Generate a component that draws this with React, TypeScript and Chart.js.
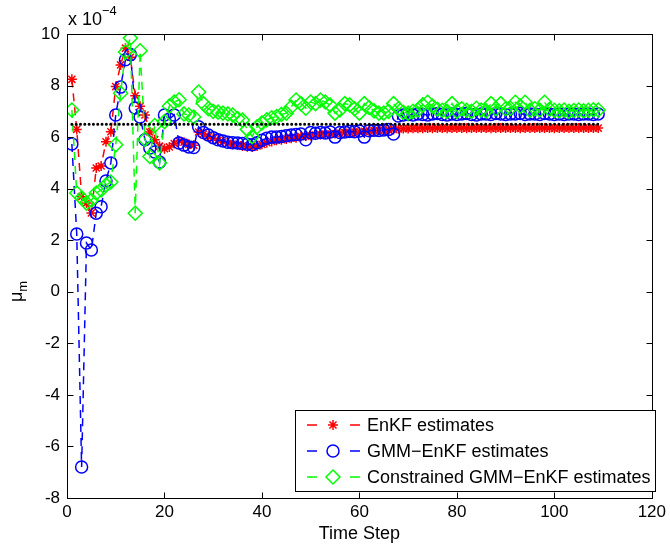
import React, { useEffect, useRef } from "react";
import { Chart, registerables } from "chart.js";

Chart.register(...registerables);

// Estimates of mu_m (in units of 1e-4) for each assimilation time step
const timeSteps: number[] = Array.from({ length: 109 }, (_, i) => i + 1);

const enkfEstimates: number[] = [
  8.24, 6.3, 3.69, 3.44, 3.06, 4.8, 4.88, 5.82, 6.21, 7.96,
  8.8, 9.45, 9.1, 7.6, 7.2, 6.86, 6.2, 5.9, 5.65, 5.55,
  5.62, 5.75, 5.85, 5.8, 5.72, 5.68, 6.2, 6.12, 6.02, 5.95,
  5.88, 5.82, 5.76, 5.72, 5.7, 5.66, 5.63, 5.62, 5.66, 5.72,
  5.78, 5.83, 5.88, 5.9, 5.93, 5.96, 5.98, 6.02, 6.04, 6.06,
  6.08, 6.1, 6.12, 6.13, 6.14, 6.16, 6.18, 6.19, 6.2, 6.21,
  6.22, 6.24, 6.25, 6.26, 6.27, 6.28, 6.3, 6.32, 6.33, 6.33,
  6.34, 6.34, 6.34, 6.35, 6.34, 6.35, 6.35, 6.34, 6.35, 6.35,
  6.35, 6.34, 6.35, 6.35, 6.35, 6.35, 6.34, 6.35, 6.35, 6.35,
  6.35, 6.35, 6.34, 6.35, 6.35, 6.35, 6.35, 6.35, 6.35, 6.34,
  6.35, 6.35, 6.35, 6.35, 6.35, 6.35, 6.35, 6.35, 6.35,
];

const gmmEnkfEstimates: number[] = [
  5.73, 2.24, -6.8, 1.89, 1.62, 3.05, 3.3, 4.3, 5.0, 6.86,
  7.94, 9.0, 9.2, 7.13, 6.78, 5.9, 5.58, 5.42, 5.03, 6.86,
  6.7, 6.86, 5.77, 5.69, 5.62, 5.6, 6.4, 6.18, 6.08, 5.98,
  5.9, 5.85, 5.8, 5.78, 5.77, 5.75, 5.72, 5.7, 5.78, 5.88,
  5.96, 6.0, 6.0, 6.02, 6.05, 6.08, 6.1, 6.12, 5.9, 6.18,
  6.15, 6.18, 6.16, 6.2, 6.0, 6.18, 6.2, 6.22, 6.21, 6.24,
  6.0, 6.25, 6.27, 6.26, 6.28, 6.3, 6.12, 6.82, 6.86, 6.88,
  6.86, 6.9, 6.88, 6.86, 6.9, 6.92, 6.88, 6.86, 6.9, 6.88,
  6.9, 6.92, 6.88, 6.86, 6.9, 6.9, 6.88, 6.92, 6.9, 6.88,
  6.9, 6.9, 6.92, 6.88, 6.9, 6.9, 6.88, 6.92, 6.9, 6.88,
  6.9, 6.88, 6.9, 6.9, 6.88, 6.9, 6.9, 6.88, 6.9,
];

const constrainedEstimates: number[] = [
  7.05, 3.83, 3.64, 3.44, 3.55, 3.83, 3.95, 4.14, 4.26, 5.7,
  7.7, 9.3, 9.84, 3.05, 9.35, 5.92, 5.25, 6.45, 5.0, 6.6,
  7.2, 7.36, 7.45, 6.9, 6.86, 6.78, 7.75, 7.3, 7.1, 7.0,
  6.97, 6.93, 6.9, 6.86, 6.72, 6.66, 6.3, 6.02, 6.4, 6.55,
  6.67, 6.75, 6.8, 6.88, 6.93, 7.17, 7.44, 7.3, 7.12, 7.36,
  7.3, 7.44, 7.36, 7.24, 6.93, 7.05, 7.3, 7.25, 7.1, 6.93,
  7.3, 7.15, 7.02, 6.93, 6.93, 7.0, 7.3, 7.1, 6.96, 6.93,
  7.0, 7.05, 7.25, 7.35, 7.2, 7.08, 7.04, 7.0, 7.3, 7.0,
  7.1, 7.04, 7.0, 7.12, 7.05, 7.02, 7.3, 7.1, 7.3, 7.1,
  7.12, 7.35, 7.2, 7.35, 7.04, 7.1, 7.05, 7.35, 7.08, 7.04,
  7.02, 7.05, 7.0, 7.03, 7.05, 7.02, 7.04, 7.06, 7.05,
];

const trueValue = 6.5;
const trueSpan: number[] = [1, 109];

const xTicks: number[] = [0, 20, 40, 60, 80, 100, 120];
const yTicks: number[] = [-8, -6, -4, -2, 0, 2, 4, 6, 8, 10];

const legendLabels: string[] = [
  "EnKF estimates",
  "GMM\u2212EnKF estimates",
  "Constrained GMM\u2212EnKF estimates",
];

const RED = "#ff0000";
const BLUE = "#0000ff";
const GREEN = "#00ff00";
const FONT = '"Liberation Sans", Arial, Helvetica, sans-serif';

function toPoints(values: number[]) {
  return values.map((v, i) => ({ x: timeSteps[i], y: v }));
}

function drawMarker(ctx: CanvasRenderingContext2D, kind: string, x: number, y: number, color: string) {
  ctx.save();
  ctx.strokeStyle = color;
  ctx.lineWidth = 1.5;
  ctx.setLineDash([]);
  ctx.beginPath();
  if (kind === "star") {
    const r = 5;
    const d = r * Math.SQRT1_2;
    ctx.moveTo(x - r, y); ctx.lineTo(x + r, y);
    ctx.moveTo(x, y - r); ctx.lineTo(x, y + r);
    ctx.moveTo(x - d, y - d); ctx.lineTo(x + d, y + d);
    ctx.moveTo(x - d, y + d); ctx.lineTo(x + d, y - d);
  } else if (kind === "circle") {
    ctx.arc(x, y, 6, 0, Math.PI * 2);
  } else {
    const r = 7;
    ctx.moveTo(x, y - r); ctx.lineTo(x + r, y); ctx.lineTo(x, y + r); ctx.lineTo(x - r, y); ctx.closePath();
  }
  ctx.stroke();
  ctx.restore();
}

const framePlugin = {
  id: "matlabFrame",
  afterDatasetsDraw(chart: any) {
    const { ctx, chartArea: a, scales } = chart;
    const L = Math.round(a.left) + 0.5;
    const R = Math.round(a.right) + 0.5;
    const T = Math.round(a.top) + 0.5;
    const B = Math.round(a.bottom) + 0.5;
    ctx.save();
    ctx.strokeStyle = "#000";
    ctx.lineWidth = 1;
    ctx.setLineDash([]);
    ctx.strokeRect(L, T, R - L, B - T);
    const tick = 6;
    ctx.beginPath();
    xTicks.forEach((v) => {
      const px = Math.round(scales.x.getPixelForValue(v)) + 0.5;
      ctx.moveTo(px, B); ctx.lineTo(px, B - tick);
      ctx.moveTo(px, T); ctx.lineTo(px, T + tick);
    });
    yTicks.forEach((v) => {
      const py = Math.round(scales.y.getPixelForValue(v)) + 0.5;
      ctx.moveTo(L, py); ctx.lineTo(L + tick, py);
      ctx.moveTo(R, py); ctx.lineTo(R - tick, py);
    });
    ctx.stroke();

    // legend box
    const bx = 295.5, by = 410.5, bw = 360, bh = 81;
    ctx.fillStyle = "#fff";
    ctx.fillRect(bx, by, bw, bh);
    ctx.strokeRect(bx, by, bw, bh);
    const colors = [RED, BLUE, GREEN];
    const kinds = ["star", "circle", "diamond"];
    const rows = [425, 451, 477];
    ctx.font = `18px ${FONT}`;
    ctx.textBaseline = "middle";
    ctx.textAlign = "left";
    rows.forEach((ry, i) => {
      ctx.strokeStyle = colors[i];
      ctx.lineWidth = 1.5;
      ctx.beginPath();
      ctx.moveTo(307, ry); ctx.lineTo(317, ry);
      ctx.moveTo(350, ry); ctx.lineTo(360, ry);
      ctx.stroke();
      drawMarker(ctx, kinds[i], 333, ry, colors[i]);
      ctx.fillStyle = "#000";
      ctx.fillText(legendLabels[i], 367, ry + 1);
    });

    // axis titles
    ctx.fillStyle = "#000";
    ctx.textAlign = "center";
    ctx.textBaseline = "middle";
    ctx.font = `18px ${FONT}`;
    ctx.fillText("Time Step", (a.left + a.right) / 2, 534);

    ctx.save();
    ctx.translate(22, 292);
    ctx.rotate(-Math.PI / 2);
    ctx.textAlign = "left";
    ctx.textBaseline = "alphabetic";
    ctx.font = `18px ${FONT}`;
    const muW = ctx.measureText("\u03bc").width;
    ctx.fillText("\u03bc", -10, 0);
    ctx.font = `13px ${FONT}`;
    ctx.fillText("m", -10 + muW, 5);
    ctx.restore();

    // scale factor
    ctx.textAlign = "left";
    ctx.textBaseline = "alphabetic";
    ctx.font = `18px ${FONT}`;
    ctx.fillText("x 10", 68, 25);
    const w = ctx.measureText("x 10").width;
    ctx.font = `13px ${FONT}`;
    ctx.fillText("\u22124", 68 + w, 15);
    ctx.restore();
  },
};

export default function App() {
  const canvasRef = useRef<HTMLCanvasElement | null>(null);

  useEffect(() => {
    const canvas = canvasRef.current;
    if (!canvas) return;
    const chart = new Chart(canvas, {
      type: "line",
      data: {
        datasets: [
          {
            label: "true",
            data: trueSpan.map((t) => ({ x: t, y: trueValue })),
            borderColor: "#000",
            borderWidth: 3,
            borderDash: [0.01, 4.3],
            borderCapStyle: "round",
            pointRadius: 0,
            order: 0,
          },
          {
            label: legendLabels[2],
            data: toPoints(constrainedEstimates),
            borderColor: GREEN,
            borderWidth: 1.5,
            borderDash: [8, 6],
            pointStyle: "rectRot",
            pointRadius: 7,
            pointBorderWidth: 1.5,
            pointBorderColor: GREEN,
            pointBackgroundColor: "rgba(0,0,0,0)",
            order: 1,
          },
          {
            label: legendLabels[1],
            data: toPoints(gmmEnkfEstimates),
            borderColor: BLUE,
            borderWidth: 1.5,
            borderDash: [8, 6],
            pointStyle: "circle",
            pointRadius: 6,
            pointBorderWidth: 1.5,
            pointBorderColor: BLUE,
            pointBackgroundColor: "rgba(0,0,0,0)",
            order: 2,
          },
          {
            label: legendLabels[0],
            data: toPoints(enkfEstimates),
            borderColor: RED,
            borderWidth: 1.5,
            borderDash: [8, 6],
            pointStyle: "star",
            pointRadius: 5,
            pointBorderWidth: 1.5,
            pointBorderColor: RED,
            pointBackgroundColor: RED,
            order: 3,
          },
        ],
      },
      options: {
        animation: false,
        responsive: false,
        layout: { padding: { top: 34, right: 14, left: 0, bottom: 0 } },
        plugins: { legend: { display: false }, tooltip: { enabled: false } },
        elements: { line: { tension: 0 } },
        scales: {
          x: {
            type: "linear",
            min: 0,
            max: 120,
            afterBuildTicks: (s: any) => { s.ticks = xTicks.map((v) => ({ value: v })); },
            afterFit: (s: any) => { s.height = 50; },
            grid: { display: false, drawTicks: false },
            border: { display: false },
            ticks: { color: "#000", padding: 4, font: { family: FONT, size: 17 }, maxRotation: 0 },
          },
          y: {
            type: "linear",
            min: -8,
            max: 10,
            afterBuildTicks: (s: any) => { s.ticks = yTicks.map((v) => ({ value: v })); },
            afterFit: (s: any) => { s.width = 67; },
            grid: { display: false, drawTicks: false },
            border: { display: false },
            ticks: { color: "#000", padding: 7, font: { family: FONT, size: 17 } },
          },
        },
      },
      plugins: [framePlugin],
    } as any);
    return () => chart.destroy();
  }, []);

  return (
    <div style={{ position: "fixed", left: 0, top: 0, width: 670, height: 548, background: "#fff" }}>
      <canvas ref={canvasRef} width={670} height={548} style={{ width: 670, height: 548 }} />
    </div>
  );
}
